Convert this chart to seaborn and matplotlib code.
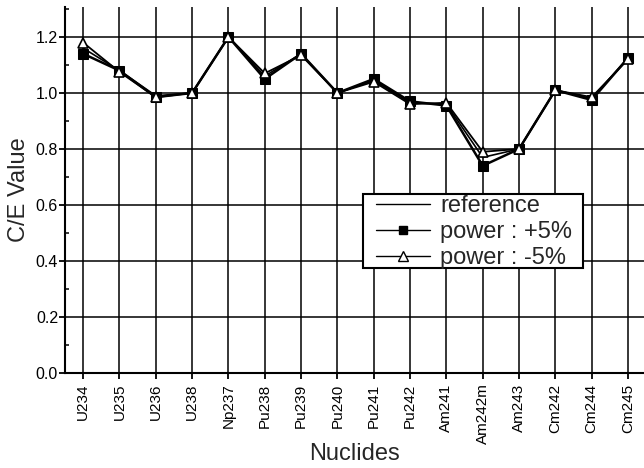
import matplotlib
matplotlib.use("Agg")
import matplotlib.pyplot as plt
from matplotlib.lines import Line2D
from matplotlib.patches import Rectangle
from matplotlib.ticker import MultipleLocator, FormatStrFormatter
import pandas as pd
import seaborn as sns

# C/E values
nuclides = ["U234", "U235", "U236", "U238", "Np237", "Pu238", "Pu239", "Pu240",
            "Pu241", "Pu242", "Am241", "Am242m", "Am243", "Cm242", "Cm244", "Cm245"]
reference = [1.16, 1.08, 0.99, 1.00, 1.20, 1.06, 1.14, 1.00,
             1.045, 0.965, 0.96, 0.77, 0.80, 1.01, 0.98, 1.125]
power_plus5 = [1.14, 1.08, 0.985, 1.00, 1.20, 1.05, 1.14, 1.00,
               1.05, 0.97, 0.955, 0.74, 0.80, 1.01, 0.975, 1.125]
power_minus5 = [1.18, 1.075, 0.985, 1.00, 1.20, 1.07, 1.135, 1.00,
                1.04, 0.96, 0.965, 0.79, 0.80, 1.01, 0.985, 1.12]

series_names = ["reference", "power : +5%", "power : -5%"]

rows = []
for name, vals in zip(series_names, [reference, power_plus5, power_minus5]):
    for i, v in enumerate(vals):
        rows.append({"pos": i, "value": v, "series": name})
df = pd.DataFrame(rows)

sns.set_theme(style="ticks")
plt.rcParams["font.family"] = ["Liberation Sans", "DejaVu Sans"]

W, H = 644, 468
AX_L, AX_B, AX_T = 65, 373, 7   # axes edges in pixels
fig = plt.figure(figsize=(W / 100, H / 100), dpi=100)
ax = fig.add_axes([AX_L / W, 1 - AX_B / H, 1 - AX_L / W, (AX_B - AX_T) / H])


def px_to_axes(x, y):
    return (x - AX_L) / (W - AX_L), (AX_B - y) / (AX_B - AX_T)


# grid under the data
ax.set_axisbelow(True)
ax.grid(True, which="major", color="black", linewidth=1.1)

sns.lineplot(data=df[df["series"] == "reference"], x="pos", y="value",
             color="black", linewidth=1.2, ax=ax, legend=False, sort=False)
sns.lineplot(data=df[df["series"] == "power : +5%"], x="pos", y="value",
             color="black", linewidth=1.8, marker="s", markersize=6.5,
             markerfacecolor="black", markeredgecolor="black",
             ax=ax, legend=False, sort=False)
sns.lineplot(data=df[df["series"] == "power : -5%"], x="pos", y="value",
             color="black", linewidth=1.3, marker="^", markersize=7.5,
             markerfacecolor="white", markeredgecolor="black", markeredgewidth=1.2,
             ax=ax, legend=False, sort=False)

ax.set_xlim(-0.5, 15.44)
ax.set_ylim(0, 1.307)
ax.set_xticks(range(len(nuclides)))
ax.set_xticklabels(nuclides, rotation=90, fontsize=11)
ax.yaxis.set_major_locator(MultipleLocator(0.2))
ax.yaxis.set_minor_locator(MultipleLocator(0.1))
ax.yaxis.set_major_formatter(FormatStrFormatter("%.1f"))
ax.tick_params(axis="y", labelsize=11.5, direction="out", length=4, width=1.3,
               colors="black", pad=1)
ax.tick_params(axis="y", which="minor", direction="in", length=3, width=1.3)
ax.tick_params(axis="x", direction="out", length=4.5, width=1.3, colors="black", pad=3)

ax.spines["top"].set_visible(False)
ax.spines["right"].set_visible(False)
for side in ["left", "bottom"]:
    ax.spines[side].set_color("black")
    ax.spines[side].set_linewidth(1.5)

ax.set_xlabel("Nuclides", fontsize=17)
ax.xaxis.set_label_coords(0.5, px_to_axes(0, 443)[1])
ax.set_ylabel("C/E Value", fontsize=17, labelpad=4)

# legend frame drawn as its own box, wider than the entries
x0, y0 = px_to_axes(363, 268)
x1, y1 = px_to_axes(583, 194)
ax.add_patch(Rectangle((x0, y0), x1 - x0, y1 - y0, transform=ax.transAxes,
                       facecolor="white", edgecolor="black", linewidth=1.5,
                       zorder=4.5, clip_on=False))

handles = [
    Line2D([], [], color="black", linewidth=1.0),
    Line2D([], [], color="black", linewidth=1.0, marker="s", markersize=6,
           markerfacecolor="black", markeredgecolor="black"),
    Line2D([], [], color="black", linewidth=1.0, marker="^", markersize=7,
           markerfacecolor="white", markeredgecolor="black"),
]
leg = ax.legend(handles, series_names, loc="upper left",
                bbox_to_anchor=px_to_axes(376, 195),
                fontsize=17, frameon=False, handlelength=2.3, borderpad=0,
                labelspacing=0.17, handletextpad=0.42, borderaxespad=0)
leg.set_zorder(5)

fig.savefig("out.png", dpi=100)
